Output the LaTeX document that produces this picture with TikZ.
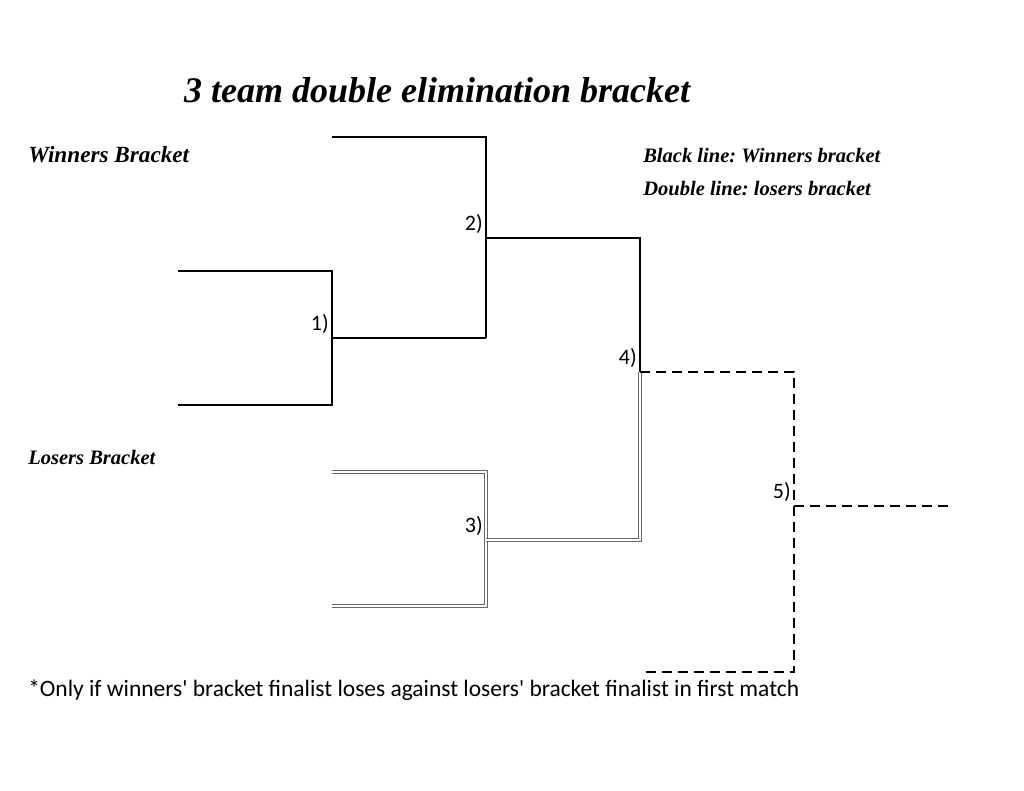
\documentclass[tikz,border=0pt]{standalone}
\usepackage{fontspec}
\setmainfont{Liberation Serif}
\newfontfamily\carlitofont{Carlito}
\frenchspacing
\begin{document}
\begin{tikzpicture}[x=0.75pt,y=-0.75pt,
  win/.style={line width=1.6pt,black},
  los/.style={line width=0.7pt,draw=black!60,double=white,double distance=1.5pt},
  dsh/.style={line width=1.6pt,black,dash pattern=on 7.5pt off 4.5pt},
  ttl/.style={font=\bfseries\itshape\fontsize{27}{31}\selectfont,inner sep=0pt},
  lab/.style={font=\bfseries\itshape\fontsize{15.4}{18}\selectfont,inner sep=0pt,anchor=west},
  num/.style={font=\carlitofont\fontsize{16.5}{19}\selectfont,inner sep=0pt,anchor=south east}]
\useasboundingbox[fill=white] (0,0) rectangle (1024,791);
% coordinates
\coordinate (a1) at (178,271); \coordinate (a2) at (332,271);
\coordinate (b1) at (178,405); \coordinate (b2) at (332,405);
\coordinate (m1) at (332,338); \coordinate (m1o) at (486,338);
\coordinate (c1) at (332,137); \coordinate (c2) at (486,137);
\coordinate (m2) at (486,238); \coordinate (m2o) at (640,238);
\coordinate (d1) at (332,472); \coordinate (d2) at (486,472);
\coordinate (e1) at (332,606); \coordinate (e2) at (486,606);
\coordinate (m3) at (486,540); \coordinate (m3o) at (640,540);
\coordinate (m4) at (640,372); \coordinate (f2) at (794,372);
\coordinate (g1) at (640,672); \coordinate (g2) at (794,672);
\coordinate (m5) at (794,506); \coordinate (m5o) at (948,506);
% winners
\draw[win] (a1) -- (a2) -- (b2) -- (b1);
\draw[win] (m1) -- (m1o);
\draw[win] (c1) -- (c2) -- (m1o);
\draw[win] (m2) -- (m2o) -- (m4);
% losers
\draw[los] (d1) -- (d2) -- (e2) -- (e1);
\draw[los] (m3) -- (m3o) -- (m4);
% final
\draw[dsh] (m4) -- (f2) -- (g2) -- (g1);
\draw[dsh] (m5) -- (m5o);
% labels
\node[num] (n1) at (329,334) {1)};
\node[num] (n2) at (483,234) {2)};
\node[num] (n3) at (483,536) {3)};
\node[num] (n4) at (637,368) {4)};
\node[num] (n5) at (791,502) {5)};
\node[ttl] (title) at (437,90) {3 team double elimination bracket};
\node[lab,font=\bfseries\itshape\fontsize{17.4}{20}\selectfont] (wb) at (28,155) {Winners Bracket};
\node[lab] (lb) at (28,457) {Losers Bracket};
\node[lab] (k1) at (643,156) {Black line: Winners bracket};
\node[lab] (k2) at (643,189) {Double line: losers bracket};
\node[font=\carlitofont\fontsize{17.6}{21}\selectfont,inner sep=0pt,anchor=west] (foot) at (28,690) {*Only if winners' bracket finalist loses against losers' bracket finalist in first match};
\end{tikzpicture}
\end{document}
